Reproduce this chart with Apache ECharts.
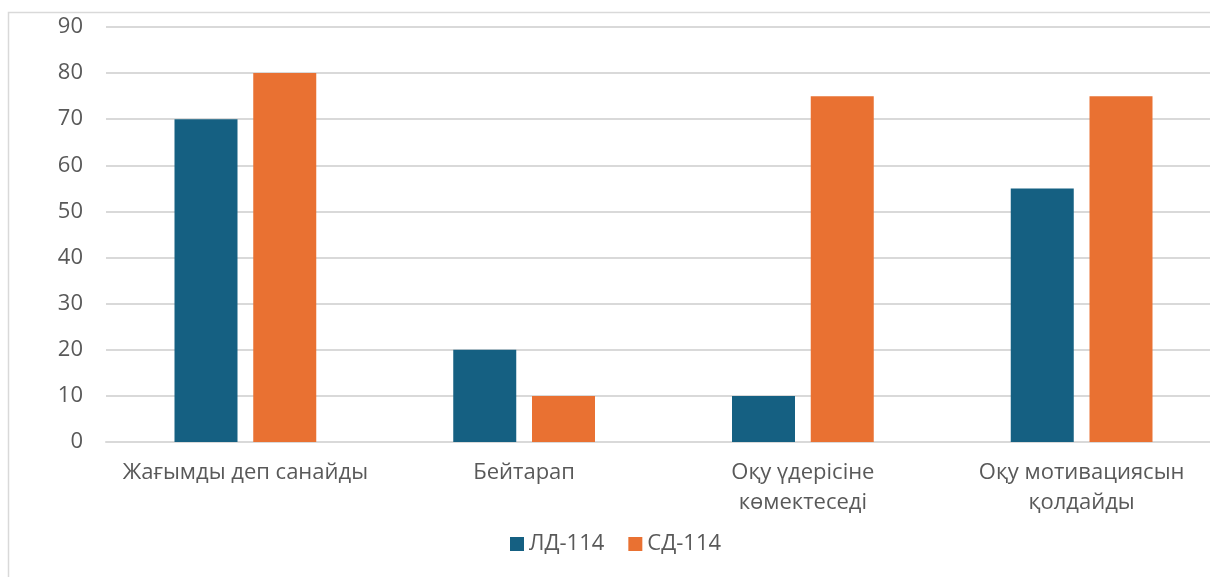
<!DOCTYPE html>
<html>
<head>
<meta charset="utf-8">
<script src="https://cdn.jsdelivr.net/npm/echarts@6/dist/echarts.min.js"></script>
<style>
html,body{margin:0;padding:0;background:#fff;}
#chart{width:1210px;height:577px;}
</style>
</head>
<body>
<div id="chart"></div>
<script>
const categories = ['Жағымды деп санайды', 'Бейтарап', 'Оқу үдерісіне\nкөмектеседі', 'Оқу мотивациясын\nқолдайды'];
const seriesNames = ['ЛД-114', 'СД-114'];
const ldValues = [70, 20, 10, 55];
const sdValues = [80, 10, 75, 75];
const yTicks = {min: 0, max: 90, interval: 10};

const FONT = 'Open Sans';
const chart = echarts.init(document.getElementById('chart'));
chart.setOption({
  animation: false,
  textStyle: {fontFamily: FONT},
  graphic: [{
    type: 'rect',
    shape: {x: 8.5, y: 12.5, width: 1230, height: 600},
    style: {fill: 'none', stroke: '#d9d9d9', lineWidth: 1.5},
    silent: true
  }],
  grid: {left: 106, width: 1115, top: 27, height: 415, containLabel: false, outerBoundsMode: 'none'},
  legend: {
    left: 505, top: 528,
    itemWidth: 14, itemHeight: 14, itemGap: 24,
    icon: 'rect',
    textStyle: {color: '#595959', fontSize: 22, fontFamily: FONT, padding: [0, 0, 0, 0]},
    data: seriesNames
  },
  xAxis: {
    type: 'category',
    data: categories,
    axisLine: {show: true, lineStyle: {color: '#d9d9d9', width: 2}},
    axisTick: {show: false},
    axisLabel: {color: '#595959', fontSize: 22, lineHeight: 30, margin: 16, interval: 0, fontFamily: FONT}
  },
  yAxis: {
    type: 'value',
    min: yTicks.min, max: yTicks.max, interval: yTicks.interval,
    axisLine: {show: false},
    axisTick: {show: false},
    splitLine: {lineStyle: {color: '#d9d9d9', width: 2}},
    axisLabel: {color: '#595959', fontSize: 22, margin: 23, fontFamily: FONT}
  },
  series: [
    {name: seriesNames[0], type: 'bar', data: ldValues, barWidth: 63, barGap: '25%',
     itemStyle: {color: '#156082'}},
    {name: seriesNames[1], type: 'bar', data: sdValues, barWidth: 63, barGap: '25%',
     itemStyle: {color: '#E97132'}}
  ]
});
</script>
</body>
</html>
